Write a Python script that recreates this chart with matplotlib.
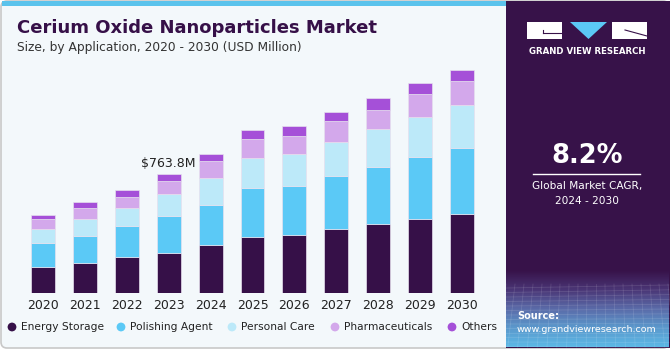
import numpy as np
import matplotlib.pyplot as plt
from matplotlib.patches import Rectangle, FancyBboxPatch, Polygon
from matplotlib.colors import LinearSegmentedColormap

years = ["2020", "2021", "2022", "2023", "2024", "2025", "2026", "2027", "2028", "2029", "2030"]
segments = ["Energy Storage", "Polishing Agent", "Personal Care", "Pharmaceuticals", "Others"]
energy_storage = [167, 193, 234, 257, 309, 362, 373, 412, 444, 476, 508]
polishing_agent = [156, 172, 195, 236, 259, 311, 315, 343, 369, 401, 427]
personal_care = [88, 114, 118, 143, 172, 195, 204, 217, 241, 255, 272]
pharmaceuticals = [64, 69, 73, 87, 107, 124, 118, 133, 124, 146, 154]
others = [26, 39, 43, 41, 47, 56, 66, 60, 75, 71, 75]
colors = ["#361048", "#5bc9f6", "#bce9f9", "#d3a8eb", "#a550d8"]
note_year = "2023"
note_text = "$763.8M"

W, H = 671, 350
fig = plt.figure(figsize=(W / 100, H / 100), dpi=100)
fig.patch.set_facecolor("white")

# background layer in pixel coordinates
bg = fig.add_axes([0, 0, 1, 1])
bg.set_xlim(0, W)
bg.set_ylim(H, 0)
bg.axis("off")

bg.add_patch(FancyBboxPatch((1, 1), W - 3, H - 3, boxstyle="round,pad=0,rounding_size=6",
                            fc="#f3f8fb", ec="#c8c8c8", lw=1.2))
bg.add_patch(Rectangle((2, 1), 504, 4.5, fc="#5bc3ec", ec="none"))

# right panel, gradient grid at the bottom
bg.add_patch(Rectangle((506, 1), W - 507, H - 3, fc="#371249", ec="none"))
grad = np.linspace(0, 1, 100).reshape(-1, 1)
cmap = LinearSegmentedColormap.from_list("g", ["#371249", "#4a3575", "#5a6aa8", "#5b98cc", "#5cb8e6"])
bg.imshow(grad, cmap=cmap, extent=(506, W - 2, 347, 270), aspect="auto", zorder=1)
for k in range(14):
    bg.plot([506, W - 2], [288 + k * 4.5, 285 + k * 4.8], color="white", alpha=0.12, lw=0.6, zorder=2)
for k in range(20):
    x0 = 506 + k * 9
    bg.plot([x0, x0 - 8 + k * 0.8], [284, 347], color="white", alpha=0.12, lw=0.6, zorder=2)

# logo
bg.add_patch(Rectangle((527, 22), 35, 17, fc="white", ec="none", zorder=3))
bg.add_patch(Polygon([[570, 22], [607, 22], [588.5, 39]], closed=True, fc="#5bc8f5", ec="none", zorder=3))
bg.add_patch(Rectangle((612, 22), 35, 17, fc="white", ec="none", zorder=3))
bg.plot([543, 561], [33, 33], color="#371249", lw=0.8, zorder=4)
bg.plot([543, 543], [30, 33], color="#371249", lw=0.8, zorder=4)
bg.plot([625, 647], [30, 36], color="#371249", lw=0.8, zorder=4)
bg.text(587, 52, "GRAND VIEW RESEARCH", color="white", fontsize=6.2, fontweight="bold",
        ha="center", va="center", zorder=4)

bg.text(587, 156, "8.2%", color="white", fontsize=18.5, fontweight="bold", ha="center", va="center", zorder=4)
bg.plot([533, 640], [173.5, 173.5], color="white", lw=1, zorder=4)
bg.text(587, 186, "Global Market CAGR,", color="white", fontsize=7.6, ha="center", va="center", zorder=4)
bg.text(587, 201, "2024 - 2030", color="white", fontsize=7.6, ha="center", va="center", zorder=4)
bg.text(517, 316, "Source:", color="white", fontsize=7, fontweight="bold", ha="left", va="center", zorder=4)
bg.text(517, 330, "www.grandviewresearch.com", color="white", fontsize=6.8, ha="left", va="center", zorder=4)

# titles
bg.text(17, 28, "Cerium Oxide Nanoparticles Market", color="#361048", fontsize=13, fontweight="heavy",
        ha="left", va="center")
bg.text(17, 47, "Size, by Application, 2020 - 2030 (USD Million)", color="#333333", fontsize=8.8,
        ha="left", va="center")

# chart axes
ax_left, ax_right, ax_bottom, ax_top = 22, 483, 293, 60
ax = fig.add_axes([ax_left / W, (H - ax_bottom) / H, (ax_right - ax_left) / W, (ax_bottom - ax_top) / H])
ax.set_facecolor("none")
x = np.arange(len(years))
series = [energy_storage, polishing_agent, personal_care, pharmaceuticals, others]
bottom = np.zeros(len(years))
for vals, c, name in zip(series, colors, segments):
    ax.bar(x, vals, bottom=bottom, width=0.57, color=c, edgecolor="#e6e0ee", linewidth=0.5, label=name)
    bottom += np.array(vals)
ax.set_xlim(-0.5, len(years) - 0.5)
ax.set_ylim(0, 1499)
ax.set_yticks([])
ax.set_xticks(x)
ax.set_xticklabels(years, fontsize=9, color="#222222")
ax.tick_params(axis="x", length=0, pad=4)
for s in ax.spines.values():
    s.set_visible(False)

i = years.index(note_year)
ax.annotate(note_text, (x[i], bottom[i]), xytext=(0, 3), textcoords="offset points",
            ha="center", va="bottom", fontsize=9, color="#222222")

# legend, placed by hand to fit the left panel
legend_x = [12, 121, 232, 335, 452]
for lx, c, name in zip(legend_x, colors, segments):
    bg.scatter([lx], [327], s=40, color=c, edgecolor="none", zorder=4)
    bg.text(lx + 9, 327, name, fontsize=7.7, color="#222222", ha="left", va="center", zorder=4)

fig.savefig("out.png", dpi=100, facecolor=fig.get_facecolor())
